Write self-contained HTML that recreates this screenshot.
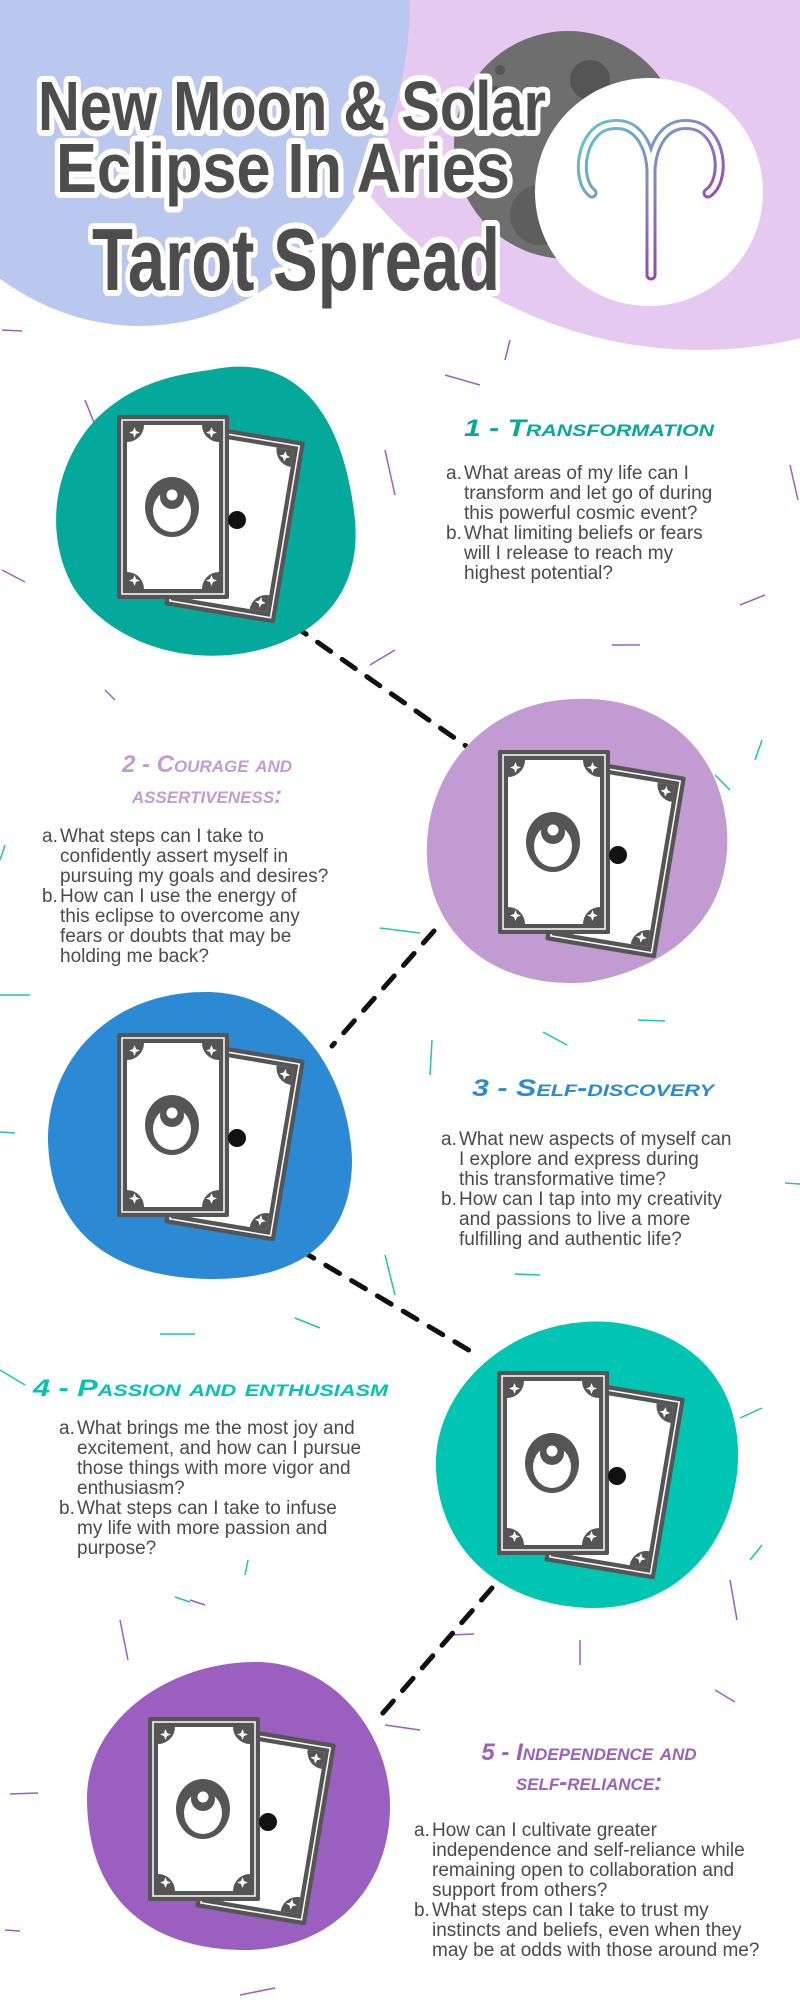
<!DOCTYPE html>
<html><head><meta charset="utf-8"><style>
html,body{margin:0;padding:0;background:#fff;}
svg{display:block;}
.t{font-family:"Liberation Sans",sans-serif;font-size:19px;fill:#4a4a4a;}
.h{font-family:"Liberation Sans",sans-serif;font-weight:bold;font-style:italic;font-size:24px;font-variant:small-caps;}
.big{font-family:"Liberation Sans Narrow","Liberation Sans",sans-serif;font-weight:bold;fill:#4d4d4d;stroke:#fff;stroke-width:12px;paint-order:stroke;stroke-linejoin:round;}
</style></head><body>
<svg width="800" height="2000" viewBox="0 0 800 2000" xmlns="http://www.w3.org/2000/svg">
<defs>
<linearGradient id="ag" x1="0" y1="0" x2="1" y2="1">
<stop offset="0" stop-color="#5fc8c8"/><stop offset="0.5" stop-color="#8a7cc4"/><stop offset="1" stop-color="#a0179c"/>
</linearGradient>
<clipPath id="cin"><rect x="10" y="10" width="92" height="164"/></clipPath>
<g id="face">
  <rect x="0" y="0" width="112" height="184" fill="#555" rx="2"/>
  <rect x="5" y="5" width="102" height="174" fill="none" stroke="#fff" stroke-width="1.5"/>
  <rect x="10" y="10" width="92" height="164" fill="#fff"/>
  <g clip-path="url(#cin)" fill="#555">
    <circle cx="10" cy="10" r="17"/><circle cx="102" cy="10" r="17"/>
    <circle cx="10" cy="174" r="17"/><circle cx="102" cy="174" r="17"/>
  </g>
  <g fill="#fff">
    <path d="M16,16 l1.5,-4 l1.5,4 l4,1.5 l-4,1.5 l-1.5,4 l-1.5,-4 l-4,-1.5z"/>
    <path d="M93,16 l1.5,-4 l1.5,4 l4,1.5 l-4,1.5 l-1.5,4 l-1.5,-4 l-4,-1.5z"/>
    <path d="M16,164 l1.5,-4 l1.5,4 l4,1.5 l-4,1.5 l-1.5,4 l-1.5,-4 l-4,-1.5z"/>
    <path d="M93,164 l1.5,-4 l1.5,4 l4,1.5 l-4,1.5 l-1.5,4 l-1.5,-4 l-4,-1.5z"/>
  </g>
</g>
<g id="card">
  <g transform="translate(188,27) rotate(9.5) translate(-112,0)"><use href="#face"/></g>
  <use href="#face"/>
  <ellipse cx="55" cy="92" rx="27" ry="30" fill="#555"/>
  <ellipse cx="55" cy="96" rx="19" ry="21" fill="#fff"/>
  <circle cx="55" cy="82" r="12" fill="#555"/>
  <circle cx="55" cy="80" r="5.5" fill="#fff"/>
  <circle cx="120" cy="105" r="9" fill="#111"/>
</g>
</defs>

<!-- header -->
<circle cx="700" cy="-80" r="430" fill="#e6c9f0"/>
<ellipse cx="140" cy="0" rx="270" ry="326" fill="#bac8f0"/>
<circle cx="568" cy="145" r="114" fill="#6e6e6e"/>
<circle cx="590" cy="80" r="20" fill="#555"/><circle cx="500" cy="70" r="5" fill="#555"/><circle cx="495" cy="90" r="4" fill="#555"/>
<circle cx="540" cy="215" r="30" fill="#5e5e5e"/>
<circle cx="649" cy="192" r="114" fill="#fff"/>
<path d="M592,213 C575,200 580,150 610,145 C640,140 650,170 651,190 L651,295 M651,190 C652,170 662,140 692,145 C722,150 727,200 708,213" fill="none" stroke="url(#ag)" stroke-width="11" stroke-linecap="round" transform="translate(0,-20)"/>
<path d="M592,213 C575,200 580,150 610,145 C640,140 650,170 651,190 L651,295 M651,190 C652,170 662,140 692,145 C722,150 727,200 708,213" fill="none" stroke="#fff" stroke-width="5" stroke-linecap="round" transform="translate(0,-20)"/>

<text class="big" x="38" y="130" font-size="70" textLength="508" lengthAdjust="spacingAndGlyphs">New Moon &amp; Solar</text>
<text class="big" x="56" y="192" font-size="70" textLength="454" lengthAdjust="spacingAndGlyphs">Eclipse In Aries</text>
<text class="big" x="92" y="290" font-size="88" textLength="408" lengthAdjust="spacingAndGlyphs">Tarot Spread</text>

<!-- scatter strokes -->
<g stroke-width="1.5" fill="none">
<g stroke="#9b5fbf">
<line x1="2" y1="330" x2="22" y2="331"/><line x1="510" y1="340" x2="505" y2="360"/><line x1="85" y1="400" x2="95" y2="425"/>
<line x1="385" y1="450" x2="395" y2="495"/><line x1="790" y1="465" x2="798" y2="500"/><line x1="2" y1="570" x2="25" y2="582"/>
<line x1="740" y1="605" x2="765" y2="595"/><line x1="612" y1="645" x2="640" y2="645"/><line x1="370" y1="665" x2="395" y2="650"/>
<line x1="105" y1="690" x2="115" y2="700"/><line x1="445" y1="375" x2="480" y2="385"/><line x1="120" y1="1620" x2="128" y2="1660"/>
<line x1="450" y1="1635" x2="474" y2="1634"/><line x1="385" y1="1725" x2="420" y2="1730"/><line x1="10" y1="1794" x2="38" y2="1793"/>
<line x1="715" y1="1690" x2="735" y2="1702"/><line x1="5" y1="1930" x2="20" y2="1931"/><line x1="240" y1="1995" x2="275" y2="1988"/>
<line x1="730" y1="1580" x2="737" y2="1620"/><line x1="580" y1="1640" x2="580" y2="1665"/><line x1="190" y1="1600" x2="205" y2="1605"/>
</g>
<g stroke="#1cc4b4">
<line x1="0" y1="995" x2="30" y2="995"/><line x1="380" y1="928" x2="420" y2="933"/><line x1="543" y1="1032" x2="567" y2="1045"/>
<line x1="638" y1="1020" x2="665" y2="1021"/><line x1="432" y1="1040" x2="430" y2="1075"/><line x1="785" y1="1183" x2="800" y2="1184"/>
<line x1="0" y1="1132" x2="15" y2="1133"/><line x1="385" y1="1255" x2="395" y2="1295"/><line x1="515" y1="1274" x2="540" y2="1275"/>
<line x1="160" y1="1334" x2="195" y2="1334"/><line x1="295" y1="1318" x2="320" y2="1328"/><line x1="0" y1="1370" x2="25" y2="1385"/>
<line x1="740" y1="1418" x2="762" y2="1408"/><line x1="750" y1="1560" x2="762" y2="1545"/><line x1="248" y1="1560" x2="245" y2="1575"/>
<line x1="175" y1="1597" x2="190" y2="1602"/><line x1="715" y1="775" x2="730" y2="790"/><line x1="5" y1="845" x2="0" y2="860"/>
<line x1="755" y1="760" x2="762" y2="740"/>
</g>
</g>

<!-- connectors -->
<g stroke="#111" stroke-width="5" stroke-dasharray="16,14" stroke-linecap="round">
<line x1="293" y1="625" x2="466" y2="746"/>
<line x1="434" y1="931" x2="332" y2="1046"/>
<line x1="300" y1="1250" x2="472" y2="1352"/>
<line x1="492" y1="1588" x2="375" y2="1722"/>
</g>

<!-- blobs -->
<path d="M210,370 C300,350 345,420 355,520 C362,600 310,640 250,652 C180,666 110,640 75,590 C45,540 50,470 95,420 C130,385 170,375 210,370 Z" fill="#05a99b"/>
<path d="M560,700 C650,690 720,740 727,830 C732,910 680,965 590,982 C510,990 440,950 428,870 C418,790 470,710 560,700 Z" fill="#c39bd3"/>
<path d="M210,992 C300,995 350,1080 352,1160 C352,1240 300,1280 210,1279 C110,1278 50,1230 48,1140 C48,1060 110,990 210,992 Z" fill="#2b8ad3"/>
<path d="M610,1322 C690,1330 740,1380 738,1460 C735,1540 680,1610 590,1608 C500,1605 440,1550 436,1470 C432,1390 510,1315 610,1322 Z" fill="#00c5b3"/>
<path d="M260,1662 C340,1665 392,1740 390,1810 C388,1890 330,1952 240,1950 C150,1948 88,1900 87,1800 C86,1720 170,1660 260,1662 Z" fill="#9b5fbf"/>

<use href="#card" x="117" y="415"/>
<use href="#card" x="498" y="750"/>
<use href="#card" x="117" y="1033"/>
<use href="#card" x="497" y="1371"/>
<use href="#card" x="148" y="1717"/>

<!-- section 1 -->
<text class="h" x="464" y="436" fill="#05a99b" textLength="250" lengthAdjust="spacingAndGlyphs">1 - Transformation</text>
<g class="t">
<text x="446" y="479">a.</text><text x="464" y="479">What areas of my life can I</text>
<text x="464" y="499">transform and let go of during</text>
<text x="464" y="519">this powerful cosmic event?</text>
<text x="446" y="539">b.</text><text x="464" y="539">What limiting beliefs or fears</text>
<text x="464" y="559">will I release to reach my</text>
<text x="464" y="579">highest potential?</text>
</g>
<!-- section 2 -->
<text class="h" x="207" y="772" text-anchor="middle" fill="#c39bd3">2 - Courage and</text>
<text class="h" x="207" y="803" text-anchor="middle" fill="#c39bd3">assertiveness:</text>
<g class="t">
<text x="42" y="842">a.</text><text x="60" y="842">What steps can I take to</text>
<text x="60" y="862">confidently assert myself in</text>
<text x="60" y="882">pursuing my goals and desires?</text>
<text x="42" y="902">b.</text><text x="60" y="902">How can I use the energy of</text>
<text x="60" y="922">this eclipse to overcome any</text>
<text x="60" y="942">fears or doubts that may be</text>
<text x="60" y="962">holding me back?</text>
</g>
<!-- section 3 -->
<text class="h" x="472" y="1096" fill="#2b8ad3" textLength="242" lengthAdjust="spacingAndGlyphs">3 - Self-discovery</text>
<g class="t">
<text x="441" y="1145">a.</text><text x="459" y="1145">What new aspects of myself can</text>
<text x="459" y="1165">I explore and express during</text>
<text x="459" y="1185">this transformative time?</text>
<text x="441" y="1205">b.</text><text x="459" y="1205">How can I tap into my creativity</text>
<text x="459" y="1225">and passions to live a more</text>
<text x="459" y="1245">fulfilling and authentic life?</text>
</g>
<!-- section 4 -->
<text class="h" x="33" y="1396" fill="#00c5b3" textLength="355" lengthAdjust="spacingAndGlyphs">4 - Passion and enthusiasm</text>
<g class="t">
<text x="59" y="1434">a.</text><text x="77" y="1434">What brings me the most joy and</text>
<text x="77" y="1454">excitement, and how can I pursue</text>
<text x="77" y="1474">those things with more vigor and</text>
<text x="77" y="1494">enthusiasm?</text>
<text x="59" y="1514">b.</text><text x="77" y="1514">What steps can I take to infuse</text>
<text x="77" y="1534">my life with more passion and</text>
<text x="77" y="1554">purpose?</text>
</g>
<!-- section 5 -->
<text class="h" x="589" y="1760" text-anchor="middle" fill="#9b5fbf">5 - Independence and</text>
<text class="h" x="589" y="1790" text-anchor="middle" fill="#9b5fbf">self-reliance:</text>
<g class="t">
<text x="414" y="1836">a.</text><text x="432" y="1836">How can I cultivate greater</text>
<text x="432" y="1856">independence and self-reliance while</text>
<text x="432" y="1876">remaining open to collaboration and</text>
<text x="432" y="1896">support from others?</text>
<text x="414" y="1916">b.</text><text x="432" y="1916">What steps can I take to trust my</text>
<text x="432" y="1936">instincts and beliefs, even when they</text>
<text x="432" y="1956">may be at odds with those around me?</text>
</g>
</svg>
</body></html>
